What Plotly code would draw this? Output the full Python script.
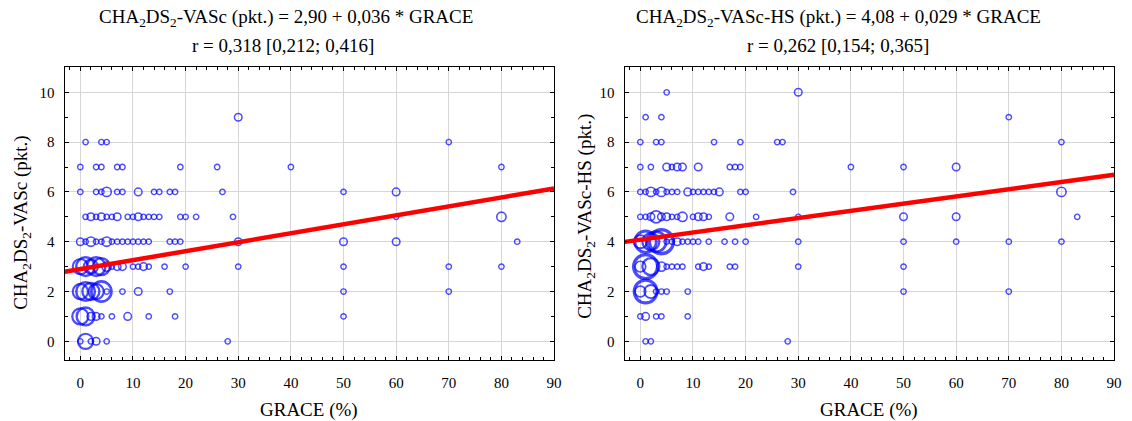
import numpy as np
import plotly.graph_objects as go

# ---------------- data (GRACE %, score, number of patients) ----------------
# Left panel: CHA2DS2-VASc
L_GRACE = [30,
           1, 4, 5, 70,
           0, 3, 4, 7, 8, 19, 26, 40, 80,
           0, 3, 4, 5, 7, 8, 11, 14, 15, 17, 18, 27, 50, 60,
           1, 2, 3, 4, 5, 6, 7, 9, 10, 11, 12, 13, 14, 15, 19, 20, 22, 29, 60, 80,
           0, 1, 2, 3, 4, 5, 6, 7, 8, 9, 10, 11, 12, 13, 17, 18, 19, 30, 50, 60, 83,
           0, 1, 2, 3, 4, 5, 6, 7, 8, 10, 11, 12, 13, 16, 20, 30, 50, 70, 80,
           0, 1, 2, 3, 4, 5, 8, 11, 17, 50, 70,
           0, 1, 2, 3, 4, 6, 9, 13, 18, 50,
           0, 1, 2, 3, 5, 28]
L_SCORE = [9] * 1 + [8] * 4 + [7] * 9 + [6] * 14 + [5] * 20 + [4] * 21 + [3] * 19 + [2] * 11 + [1] * 10 + [0] * 6
L_COUNT = [2,
           1, 1, 1, 1,
           1, 1, 1, 1, 1, 1, 1, 1, 1,
           1, 1, 1, 3, 1, 1, 2, 1, 1, 1, 1, 1, 1, 2,
           1, 2, 1, 2, 1, 1, 2, 1, 1, 2, 1, 1, 1, 1, 1, 1, 1, 1, 1, 3,
           2, 1, 3, 1, 1, 3, 1, 1, 1, 1, 1, 1, 1, 1, 1, 1, 1, 2, 2, 2, 1,
           8, 12, 7, 12, 10, 3, 1, 2, 2, 1, 1, 2, 1, 1, 1, 1, 1, 1, 1,
           8, 12, 10, 8, 14, 1, 1, 2, 1, 1, 1,
           9, 11, 2, 2, 1, 1, 2, 1, 1, 1,
           1, 8, 1, 2, 1, 1]

# Right panel: CHA2DS2-VASc-HS
R_GRACE = [5, 30,
           1, 4, 70,
           0, 3, 4, 14, 19, 26, 27, 80,
           0, 2, 5, 6, 7, 8, 11, 17, 18, 19, 40, 50, 60,
           0, 1, 2, 3, 4, 5, 6, 7, 9, 10, 11, 12, 13, 14, 15, 19, 20, 29, 80,
           0, 1, 2, 3, 4, 5, 6, 7, 8, 10, 11, 12, 13, 17, 22, 30, 50, 60, 83,
           0, 1, 2, 3, 4, 5, 6, 7, 8, 9, 10, 11, 13, 16, 18, 20, 30, 50, 60, 70, 80,
           0, 1, 2, 4, 5, 6, 7, 8, 11, 12, 13, 17, 18, 30, 50,
           0, 1, 2, 3, 4, 5, 9, 50, 70,
           0, 1, 3, 4, 9,
           1, 2, 28]
R_SCORE = [10] * 2 + [9] * 3 + [8] * 8 + [7] * 13 + [6] * 19 + [5] * 19 + [4] * 21 + [3] * 15 + [2] * 9 + [1] * 5 + [0] * 3
R_COUNT = [1, 2,
           1, 1, 1,
           1, 1, 1, 1, 1, 1, 1, 1,
           1, 1, 2, 1, 2, 2, 2, 1, 1, 1, 1, 1, 2,
           1, 1, 3, 1, 3, 1, 1, 1, 2, 1, 1, 1, 1, 1, 2, 1, 1, 1, 3,
           1, 1, 2, 5, 2, 2, 1, 1, 3, 1, 2, 2, 1, 2, 1, 1, 2, 2, 1,
           6, 16, 10, 14, 20, 1, 1, 2, 1, 1, 1, 1, 1, 1, 1, 1, 1, 1, 1, 1, 1,
           4, 20, 10, 3, 1, 1, 1, 1, 1, 2, 1, 1, 1, 1, 1,
           4, 18, 6, 1, 1, 1, 1, 1, 1,
           1, 2, 1, 1, 1,
           1, 1, 1]

# regression lines: score = a + b * GRACE
L_INTERCEPT, L_SLOPE = 2.90, 0.036
R_INTERCEPT, R_SLOPE = 4.08, 0.029

L_TITLE1 = "CHA<sub>2</sub>DS<sub>2</sub>-VASc (pkt.) = 2,90 + 0,036 * GRACE"
L_TITLE2 = "r = 0,318 [0,212; 0,416]"
R_TITLE1 = "CHA<sub>2</sub>DS<sub>2</sub>-VASc-HS (pkt.) = 4,08 + 0,029 * GRACE"
R_TITLE2 = "r = 0,262 [0,154; 0,365]"
L_YTITLE = "CHA<sub>2</sub>DS<sub>2</sub>-VASc (pkt.)"
R_YTITLE = "CHA<sub>2</sub>DS<sub>2</sub>-VASc-HS (pkt.)"
X_TITLE = "GRACE (%)"

X_RANGE = [-3, 90]
Y_RANGE = [-0.75, 11]

# ---------------- figure ----------------
W, H = 1132, 421
FONT = "Liberation Serif, Times New Roman, serif"
BLUE = "#0000ff"

fig = go.Figure()


def add_panel(xs, ys, ns, a, b, xa, ya):
    ns = np.asarray(ns, dtype=float)
    fig.add_trace(go.Scatter(
        x=xs, y=ys, mode="markers", xaxis=xa, yaxis=ya,
        marker=dict(symbol="circle-open", size=ns, sizemode="area",
                    sizeref=1 / 14.44, sizemin=0, color=BLUE,
                    line=dict(color=BLUE, width=list(1.3 + 0.1 * ns))),
        showlegend=False, hoverinfo="skip"))
    lx = np.array(X_RANGE, dtype=float)
    fig.add_trace(go.Scatter(
        x=lx, y=a + b * lx, mode="lines", xaxis=xa, yaxis=ya,
        line=dict(color="#ff0000", width=4.5),
        showlegend=False, hoverinfo="skip"))


add_panel(L_GRACE, L_SCORE, L_COUNT, L_INTERCEPT, L_SLOPE, "x", "y")
add_panel(R_GRACE, R_SCORE, R_COUNT, R_INTERCEPT, R_SLOPE, "x2", "y2")

# plot areas in pixels
LEFT_BOX = (65, 558)
RIGHT_BOX = (629, 1122)
TOP_PX, BOTTOM_PX = 67.4, 360

ydom = [(H - BOTTOM_PX) / H, (H - TOP_PX) / H]

tickfont = dict(family=FONT, size=15, color="black")
xcommon = dict(range=X_RANGE, tickmode="linear", tick0=0, dtick=10,
               ticks="inside", ticklen=4, tickcolor="black",
               showline=True, linecolor="black", linewidth=1, mirror="allticks",
               showgrid=True, gridcolor="#d6d6d6", gridwidth=1, zeroline=False,
               tickfont=tickfont, ticklabelstandoff=9,
               minor=dict(tick0=0, dtick=2, ticks="inside", ticklen=3,
                          tickcolor="black", showgrid=False))
ycommon = dict(range=Y_RANGE, tickmode="linear", tick0=0, dtick=2,
               ticks="inside", ticklen=4, tickcolor="black",
               showline=True, linecolor="black", linewidth=1, mirror="allticks",
               showgrid=True, gridcolor="#d6d6d6", gridwidth=1, zeroline=False,
               tickfont=tickfont, ticklabelstandoff=6,
               minor=dict(tick0=0, dtick=1, ticks="inside", ticklen=3,
                          tickcolor="black", showgrid=False))

fig.update_layout(
    width=W, height=H, margin=dict(l=0, r=0, t=0, b=0),
    paper_bgcolor="white", plot_bgcolor="white",
    xaxis=dict(domain=[LEFT_BOX[0] / W, LEFT_BOX[1] / W], anchor="y", **xcommon),
    yaxis=dict(domain=ydom, anchor="x", **ycommon),
    xaxis2=dict(domain=[RIGHT_BOX[0] / W, RIGHT_BOX[1] / W], anchor="y2", **xcommon),
    yaxis2=dict(domain=ydom, anchor="x2", **ycommon),
)


def ann(text, xpx, ypx, size, angle=0):
    fig.add_annotation(text=text, x=xpx / W, y=1 - ypx / H, xref="paper", yref="paper",
                       xanchor="center", yanchor="middle", showarrow=False,
                       textangle=angle, font=dict(family=FONT, size=size, color="black"))


ann(L_TITLE1, 288, 18, 19)
ann(L_TITLE2, 285, 45, 19)
ann(R_TITLE1, 844, 18, 19)
ann(R_TITLE2, 844, 45, 19)
ann(X_TITLE, (LEFT_BOX[0] + LEFT_BOX[1]) / 2, 410, 19)
ann(X_TITLE, (RIGHT_BOX[0] + RIGHT_BOX[1]) / 2, 410, 19)
ann(L_YTITLE, 22, 222, 19, -90)
ann(R_YTITLE, 590, 216, 19, -90)

fig.write_html("out.html")
